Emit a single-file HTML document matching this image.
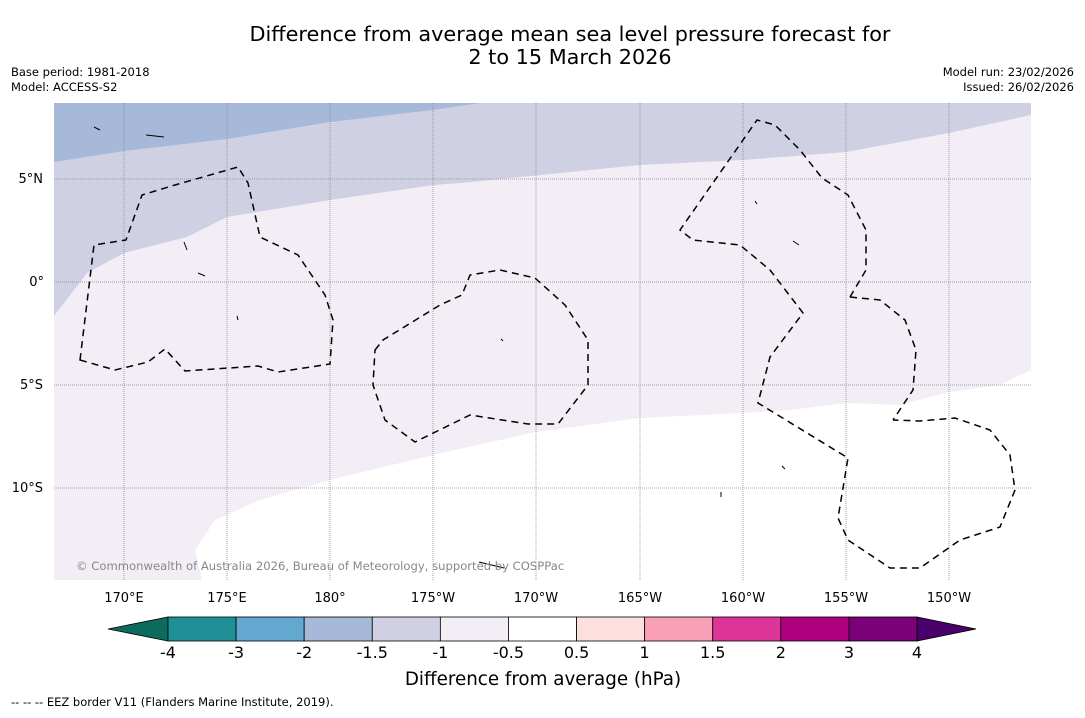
<!DOCTYPE html>
<html><head><meta charset="utf-8"><style>
body{margin:0;background:#fff;font-family:"Liberation Sans","DejaVu Sans",sans-serif}
svg text{font-family:"DejaVu Sans","Liberation Sans",sans-serif}
</style></head><body>
<svg width="1085" height="713" xmlns="http://www.w3.org/2000/svg">
<rect width="1085" height="713" fill="#fff"/>
<text x="570" y="41" font-size="20.8" text-anchor="middle" fill="#000">Difference from average mean sea level pressure forecast for</text>
<text x="570" y="64" font-size="20.8" text-anchor="middle" fill="#000">2 to 15 March 2026</text>
<text x="11" y="76" font-size="11.5">Base period: 1981-2018</text>
<text x="11" y="91" font-size="11.5">Model: ACCESS-S2</text>
<text x="1074" y="76" font-size="11.5" text-anchor="end">Model run: 23/02/2026</text>
<text x="1074" y="91" font-size="11.5" text-anchor="end">Issued: 26/02/2026</text>
<defs><clipPath id="mc"><rect x="54" y="103" width="977" height="477"/></clipPath></defs>
<g clip-path="url(#mc)">
<rect x="54" y="103" width="977" height="477" fill="#ffffff"/>
<path fill="#f3edf5" d="M54,103 L1031,103 L1031,370 L1000,385 L949,392 L900,405 L846,403 L790,410 L743,413 L640,418 L536,432 L433,455 L330,480 L260,500 L215,520 L195,550 L202,580 L54,580 Z"/>
<path fill="#d0d0e5" d="M54,103 L1031,103 L1031,115 L949,133 L846,152 L743,160 L640,165 L461,183 L434,185 L330,200 L227,217 L187,237 L124,253 L87,273 L54,316 Z"/>
<path fill="#a6b9d8" d="M54,103 L480,103 L433,110 L330,122 L227,139 L124,151 L54,162 Z"/>
<g stroke="#888" stroke-width="0.8" stroke-dasharray="1,1">
<line x1="124" y1="103" x2="124" y2="580"/><line x1="227" y1="103" x2="227" y2="580"/><line x1="330" y1="103" x2="330" y2="580"/><line x1="433" y1="103" x2="433" y2="580"/><line x1="536" y1="103" x2="536" y2="580"/><line x1="640" y1="103" x2="640" y2="580"/><line x1="743" y1="103" x2="743" y2="580"/><line x1="846" y1="103" x2="846" y2="580"/><line x1="949" y1="103" x2="949" y2="580"/>
<line x1="54" y1="179" x2="1031" y2="179"/><line x1="54" y1="282" x2="1031" y2="282"/><line x1="54" y1="385" x2="1031" y2="385"/><line x1="54" y1="488" x2="1031" y2="488"/>
</g>
<g fill="none" stroke="#000" stroke-width="1.5" stroke-dasharray="7,5">
<path d="M80,360 L94,245 L126,240 L142,195 L175,185 L238,167 L248,183 L260,237 L298,255 L325,295 L333,320 L330,364 L278,372 L258,366 L185,371 L165,349 L148,362 L115,370 Z"/>
<path d="M375,350 L383,340 L440,305 L462,295 L470,275 L500,270 L535,278 L565,305 L588,340 L588,385 L558,424 L528,424 L470,415 L415,442 L385,420 L373,385 Z"/>
<path d="M850,297 L866,270 L866,230 L848,195 L822,178 L800,150 L775,125 L757,120 L680,230 L693,240 L740,245 L770,270 L803,313 L770,357 L758,403 L848,458 L838,518 L848,540 L890,568 L920,568 L960,540 L1000,527 L1015,490 L1010,455 L990,430 L955,418 L920,421 L893,420"/>
<path d="M850,297 L880,300 L905,320 L916,350 L913,390 L893,420"/>
</g>
<g fill="none" stroke="#000" stroke-width="1">
<path d="M146,135 L164,137"/><path d="M94,127 L100,130"/><path d="M184,242 L187,250"/><path d="M198,273 L205,276"/><path d="M237,316 L238,320"/><path d="M501,339 L503,341"/><path d="M755,201 L757,204"/><path d="M793,241 L799,245"/><path d="M479,562 L504,568"/><path d="M721,492 L721,497"/><path d="M782,466 L785,469"/>
</g>
<text x="76" y="570" font-size="11.6" fill="#888">© Commonwealth of Australia 2026, Bureau of Meteorology, supported by COSPPac</text>
</g>
<g font-size="13" fill="#000">
<text x="43" y="183" text-anchor="end">5°N</text><text x="44" y="286" text-anchor="end">0°</text><text x="43" y="389" text-anchor="end">5°S</text><text x="43" y="492" text-anchor="end">10°S</text>
<g text-anchor="middle"><text x="124" y="602">170°E</text><text x="227" y="602">175°E</text><text x="330" y="602">180°</text><text x="433" y="602">175°W</text><text x="536" y="602">170°W</text><text x="640" y="602">165°W</text><text x="743" y="602">160°W</text><text x="846" y="602">155°W</text><text x="949" y="602">150°W</text></g>
</g>
<g id="cbar"></g>
<text x="543" y="685" font-size="18.3" text-anchor="middle">Difference from average (hPa)</text>
<text x="11" y="706" font-size="11.5">-- -- -- EEZ border V11 (Flanders Marine Institute, 2019).</text>
<script>
const tickLabels=["-4","-3","-2","-1.5","-1","-0.5","0.5","1","1.5","2","3","4"];
const binColors=["#1f8f96","#62a8cf","#a6b9d8","#d0d0e5","#f3edf5","#ffffff","#fde0dd","#f99fb6","#dd3497","#ae017e","#7a0177"];
const extendColors=["#0d6b5e","#49006a"];
const g=document.getElementById('cbar');
const NS="http://www.w3.org/2000/svg";
const x0=168,x1=917,y0=617,h=24;
const step=(x1-x0)/(tickLabels.length-1);
function xAt(i){return x0+i*step;}
function mk(t,a){const e=document.createElementNS(NS,t);for(const k in a)e.setAttribute(k,a[k]);g.appendChild(e);return e;}
const lo=mk('polygon',{points:`${x0},${y0} ${x0},${y0+h} 108,${y0+h/2}`,fill:extendColors[0],stroke:'#000','stroke-width':0.8});


const hi=mk('polygon',{points:`${x1},${y0} ${x1},${y0+h} 976,${y0+h/2}`,fill:extendColors[1],stroke:'#000','stroke-width':0.8});


binColors.forEach((c,i)=>{
 const r=mk('rect',{x:xAt(i),y:y0,width:step,height:h,fill:c,stroke:'#000','stroke-width':0.8});
 
 
});
tickLabels.forEach((t,i)=>{
 const e=mk('text',{x:xAt(i),y:658,'font-size':16,'text-anchor':'middle'});
 e.textContent=t;
 
 
});
</script>
</svg>
</body></html>
